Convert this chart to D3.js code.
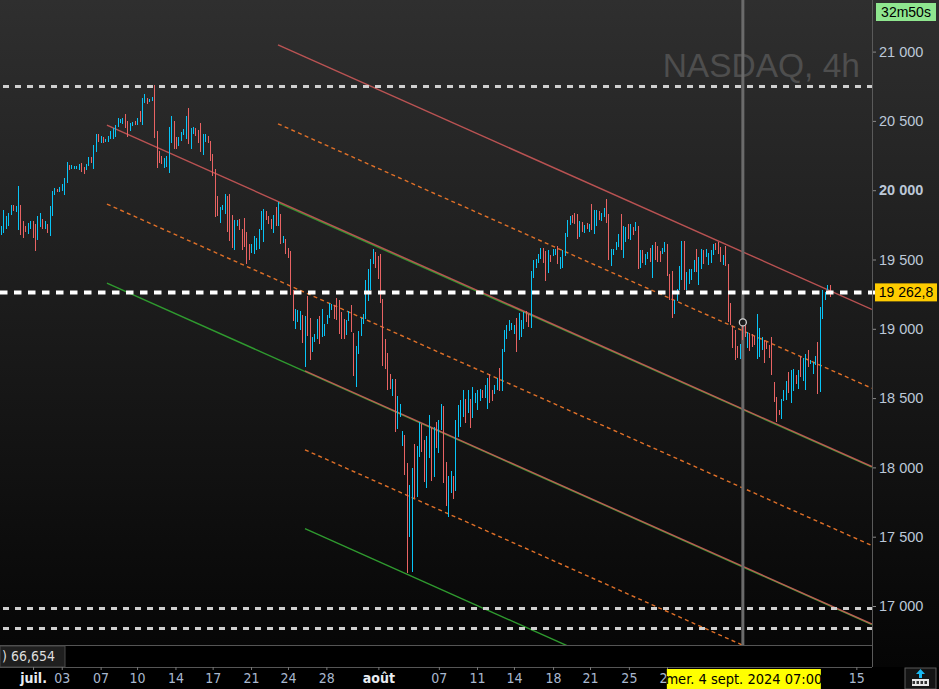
<!DOCTYPE html>
<html>
<head>
<meta charset="utf-8">
<script src="https://cdn.jsdelivr.net/npm/d3@7"></script>
<style>
  html, body { margin: 0; padding: 0; background: #000; overflow: hidden; }
</style>
</head>
<body>
<div id="chart"></div>
<script>
// 4h bars, NASDAQ (high / low / colour)
const highs = [
  19740,19856,19812,19836,19892,19892,19885,20029,19892,19776,
  19740,19764,19779,19776,19755,19812,19832,19793,19776,19755,
  19885,19993,20017,20012,20022,20044,20087,20200,20181,20181,
  20174,20174,20188,20195,20164,20188,20241,20241,20325,20405,
  20405,20390,20381,20369,20390,20429,20446,20470,20518,20511,
  20523,20549,20499,20482,20494,20501,20523,20571,20667,20696,
  20667,20660,20670,20759,20429,20284,20246,20234,20246,20458,
  20535,20499,20381,20385,20422,20438,20535,20592,20450,20458,
  20450,20434,20482,20405,20409,20390,20354,20260,20152,19957,
  19880,19892,19971,19959,19971,19822,19788,19783,19795,19723,
  19798,19697,19615,19615,19668,19653,19718,19848,19863,19848,
  19812,19795,19820,19880,19916,19827,19668,19649,19586,19560,
  19283,19145,19138,19126,19102,19090,19234,19080,
  18940,18965,19073,19090,19145,19037,19097,19186,19181,19174,
  19225,19205,19121,19068,19066,19126,19169,18972,18873,18981,
  19080,19104,19350,19429,19506,19579,19555,19523,19538,19217,
  18928,18827,18676,18640,18640,18512,18459,18266,18237,18030,
  17876,17997,18170,18151,18326,18314,18199,18230,18375,18283,
  18290,18331,18343,18454,18440,18042,17941,17977,17941,18339,
  18447,
  18483,18555,18490,18555,18495,18579,18536,18555,18567,18562,
  18591,18644,18671,18562,18591,18644,18719,18856,18989,19025,
  19061,19042,19025,19080,19114,19061,19121,19128,19104,19415,
  19494,19506,19542,19586,19583,19562,19571,19535,19579,19579,
  19595,19516,19571,19694,19783,19817,19819,19839,19831,19776,
  19769,19747,19766,19754,19899,19855,19855,19851,19834,19868,
  19940,19831,19579,19579,19627,19682,19827,19740,
  19735,19754,19754,19735,19769,19740,19571,19567,19538,19552,
  19583,19603,19624,19595,19559,19583,19624,19615,19398,19415,
  19205,19290,19456,19632,19632,19410,19434,19434,19494,19579,
  19518,19579,19567,19579,19550,19567,19615,19620,19627,19591,
  19530,19595,19470,19188,19020,18989,18873,18892,19049,19054,
  18977,18969,18965,18945,19109,19005,18940,18916,18904,18885,
  18940,18615,18507,18411,18495,18555,18620,18688,18700,18712,
  18664,18700,18801,18789,18820,18849,18777,18760,18801,18904,
  19157,19278,19266,19318,19314
];
const lows = [
  19675,19692,19723,19740,19820,19851,19841,19716,19675,19656,
  19699,19682,19723,19656,19562,19639,19735,19721,19718,19692,
  19670,19812,19964,19988,19988,19995,19964,20053,20145,20154,
  20154,20150,20145,20128,20116,20145,20178,20193,20152,20275,
  20347,20342,20337,20347,20347,20366,20373,20385,20458,20482,
  20475,20446,20385,20426,20465,20470,20470,20489,20470,20626,
  20621,20636,20645,20376,20157,20193,20188,20161,20169,20125,
  20342,20296,20296,20320,20354,20397,20373,20332,20296,20409,
  20393,20337,20279,20255,20349,20337,20212,20101,19808,19812,
  19764,19856,19827,19699,19632,19584,19567,19740,19711,19567,
  19591,19466,19499,19547,19543,19567,19574,19716,19627,19783,
  19755,19723,19692,19742,19742,19615,19620,19543,19514,19242,
  19056,19001,19049,18994,18897,18724,18946,18772,
  18832,18904,18928,18890,18940,18945,19032,19080,19133,19070,
  19066,18960,18926,18924,18953,19054,18977,18656,18579,18815,
  18945,19032,19068,19198,19278,19470,19439,19357,19186,18729,
  18707,18555,18567,18512,18259,18274,18367,18151,17948,17238,
  17500,17248,17777,17790,18078,18114,17898,17850,18066,17905,
  17934,18139,18107,18271,17886,17724,17640,17814,17773,17828,
  18218,
  18295,18363,18322,18392,18283,18355,18464,18411,18478,18502,
  18500,18418,18468,18478,18531,18560,18550,18548,18830,18926,
  18984,18993,18960,18830,18916,18940,18998,19046,19013,19005,
  19367,19436,19475,19506,19475,19345,19403,19482,19528,19530,
  19465,19432,19439,19523,19663,19750,19766,19757,19648,19665,
  19697,19692,19723,19699,19711,19682,19742,19788,19776,19807,
  19764,19494,19451,19535,19567,19591,19571,19509,
  19627,19651,19639,19675,19706,19429,19439,19475,19458,19506,
  19482,19367,19499,19482,19482,19542,19554,19381,19210,19078,
  19107,19198,19278,19350,19278,19278,19326,19350,19410,19410,
  19319,19434,19465,19518,19458,19475,19530,19571,19542,19482,
  19458,19451,19049,19025,18861,18772,18789,18784,18916,18940,
  18863,18839,18868,18880,18784,18796,18849,18753,18856,18791,
  18668,18471,18326,18375,18351,18478,18488,18536,18464,18550,
  18603,18567,18651,18623,18555,18724,18748,18676,18736,18526,
  18543,19070,19205,19278,19229
];
// u = up bar (cyan), d = down bar (red)
const barDirection =
  'uuuuuduudd' + 'duudduudud' + 'uuuduuuudu' + 'uuudduuduu' + 'duduuuuuuu' +
  'udduududuu' + 'duudddduuu' + 'udduuuuduu' + 'ddduuddddd' + 'uuuddduudd' +
  'ddduuuuuud' + 'ddudududdd' + 'duuududd' +
  'uuuduuuuud' + 'dddduudduu' + 'uuuuuudddd' + 'ddduduuudd' + 'uuduudduud' +
  'uduudduudu' + 'u' +
  'uududuuuud' + 'uudduuduuu' + 'uuuduuuddu' + 'uuuudduduu' + 'duuuuudddu' +
  'dududuuduu' + 'dduuuudu' +
  'ududududuu' + 'duddduuddd' + 'uuuuduuuud' + 'uuduuuuddd' + 'uddddddudd' +
  'uddduuuddd' + 'dddduuuduu' + 'duduuduuud' + 'uuuud';

const priceTicks = [17000, 17500, 18000, 18500, 19000, 19500, 20000, 20500, 21000];
// labels under the yellow date box (sept., 04, 08, 11) are not visible
const dateLabels = ['juil.', '03', '07', '10', '14', '17', '21', '24', '28', 'août',
  '07', '11', '14', '18', '21', '25', '28', '15'];
const dateTickBars = [13.2, 25, 41, 56, 71.8, 87.1, 102.9, 118.1, 133.9, 155.3,
  180.2, 195.9, 211.1, 227.2, 242.4, 258.4, 274.1, 352];
const monthLabels = ['juil.', 'août'];

const levelLines = [20751, 16987, 16843];
const lastPrice = 19262.8;
const cursorBar = 305.3;
const cursorPrice = 19046;
const cursorText = 'mer. 4 sept. 2024 07:00';

// three stacked channels: top line, dashed middle, green bottom
const channelStartBar = [43.6, 114, 125.1];
const channelStartTop = [20470, 21048, 18696];
const channelEndBar = 358.4;
const channelEndTop = [18006, 19140, 16870];
const channelStep = [570, 569, 569];

const width = 939;
const height = 689;
const plotRight = 872;
const plotBottom = 645;

const svg = d3.select('#chart')
  .append('svg')
  .attr('width', width)
  .attr('height', height)
  .style('display', 'block');

const defs = svg.append('defs');
const grad = defs.append('linearGradient')
  .attr('id', 'bg')
  .attr('x1', 0).attr('y1', 0).attr('x2', 0).attr('y2', 1);
grad.append('stop').attr('offset', '0%').attr('stop-color', '#2f2f2f');
grad.append('stop').attr('offset', '100%').attr('stop-color', '#050505');

defs.append('clipPath').attr('id', 'plotClip')
  .append('rect')
  .attr('x', 0).attr('y', 0)
  .attr('width', plotRight).attr('height', plotBottom);

svg.append('rect')
  .attr('x', 0).attr('y', 0)
  .attr('width', width).attr('height', plotBottom + 22)
  .attr('fill', 'url(#bg)');

const xScale = d3.scaleLinear().domain([0, 341]).range([1, 829.6]);
const yScale = d3.scaleLinear().domain([21000, 17000]).range([51.6, 606]);

const plot = svg.append('g').attr('clip-path', 'url(#plotClip)');

// watermark
plot.append('text')
  .attr('x', 860)
  .attr('y', 77)
  .attr('text-anchor', 'end')
  .attr('font-family', "'Liberation Sans', Arial, sans-serif")
  .attr('font-size', 33.5)
  .attr('fill', '#4e4e4e')
  .text('NASDAQ, 4h');

// channels: greens first, then dashed, then the red tops
const lineColour = ['#d45a5a', '#e07028', '#2f9a2f'];
const channelLines = [];
channelStartBar.forEach((b, c) => {
  for (let k = 0; k < 3; k++) {
    channelLines.push({
      x1: b, y1: channelStartTop[c] - k * channelStep[c],
      x2: channelEndBar, y2: channelEndTop[c] - k * channelStep[c],
      kind: k
    });
  }
});
channelLines.sort((a, b) => b.kind - a.kind);

plot.append('g')
  .selectAll('line')
  .data(channelLines)
  .enter()
  .append('line')
  .attr('x1', (d) => xScale(d.x1))
  .attr('y1', (d) => yScale(d.y1))
  .attr('x2', (d) => xScale(d.x2))
  .attr('y2', (d) => yScale(d.y2))
  .attr('stroke', (d) => lineColour[d.kind])
  .attr('stroke-width', 1.4)
  .attr('stroke-opacity', (d) => d.kind === 0 ? 0.85 : 1)
  .attr('stroke-dasharray', (d) => d.kind === 1 ? '4,3.3' : null);

// horizontal levels
plot.selectAll('line.level')
  .data(levelLines)
  .enter()
  .append('line')
  .attr('class', 'level')
  .attr('x1', 0)
  .attr('x2', plotRight)
  .attr('y1', (d) => Math.round(yScale(d)) + 0.5)
  .attr('y2', (d) => Math.round(yScale(d)) + 0.5)
  .attr('stroke', '#cfcfcf')
  .attr('stroke-width', 3)
  .attr('stroke-dasharray', '6,6')
  .attr('stroke-dashoffset', -3);

// cursor
plot.append('line')
  .attr('x1', xScale(cursorBar))
  .attr('x2', xScale(cursorBar))
  .attr('y1', 0)
  .attr('y2', plotBottom)
  .attr('stroke', '#6b6b6b')
  .attr('stroke-width', 3);

// candles
const bars = highs.map((h, i) => ({ i, h, l: lows[i], up: barDirection[i] === 'u' }));
plot.selectAll('rect.bar')
  .data(bars)
  .enter()
  .append('rect')
  .attr('class', 'bar')
  .attr('x', (d) => Math.round(xScale(d.i)))
  .attr('y', (d) => yScale(d.h))
  .attr('width', 1)
  .attr('height', (d) => Math.max(1, yScale(d.l) - yScale(d.h)))
  .attr('fill', (d) => d.up ? '#08c4f6' : '#e86363')
  .attr('shape-rendering', 'crispEdges');

// last price line
svg.append('line')
  .attr('x1', 0)
  .attr('x2', plotRight + 4)
  .attr('y1', yScale(lastPrice))
  .attr('y2', yScale(lastPrice))
  .attr('stroke', '#ffffff')
  .attr('stroke-width', 4)
  .attr('stroke-dasharray', '7.5,6.5');

plot.append('circle')
  .attr('cx', xScale(cursorBar))
  .attr('cy', yScale(cursorPrice))
  .attr('r', 3.5)
  .attr('fill', '#1c1c1c')
  .attr('stroke', '#d0d0d0')
  .attr('stroke-width', 1.3);

// right price axis
const frLocale = d3.formatLocale({ decimal: ',', thousands: '\u00a0', grouping: [3], currency: ['', '€'] });
const fmt = frLocale.format(',d');

const yAxis = svg.append('g')
  .attr('transform', `translate(${plotRight},0)`)
  .call(d3.axisRight(yScale).tickValues(priceTicks).tickFormat(fmt).tickSize(4).tickPadding(3));
yAxis.select('.domain').remove();
yAxis.selectAll('.tick line').attr('stroke', '#8a8a8a');
yAxis.selectAll('.tick text')
  .attr('fill', '#bcc8d8')
  .attr('font-family', "'Liberation Sans', Arial, sans-serif")
  .attr('font-size', 14.5)
  .attr('font-weight', (d) => d === 20000 ? 'bold' : 'normal');

svg.append('line')
  .attr('x1', plotRight + 0.5).attr('x2', plotRight + 0.5)
  .attr('y1', 0).attr('y2', plotBottom + 22)
  .attr('stroke', '#5a5a5a');

// price label
const py = yScale(lastPrice);
svg.append('rect')
  .attr('x', 875).attr('y', py - 9)
  .attr('width', 62).attr('height', 18)
  .attr('fill', '#ffcc00');
svg.append('text')
  .attr('x', 906).attr('y', py + 5)
  .attr('text-anchor', 'middle')
  .attr('font-family', "'Liberation Sans', Arial, sans-serif")
  .attr('font-size', 14)
  .attr('fill', '#000')
  .text('19 262,8');

// countdown
svg.append('rect')
  .attr('x', 876).attr('y', 3)
  .attr('width', 60).attr('height', 18)
  .attr('fill', '#8fe68f');
svg.append('text')
  .attr('x', 906).attr('y', 17)
  .attr('text-anchor', 'middle')
  .attr('font-family', "'Liberation Sans', Arial, sans-serif")
  .attr('font-size', 14)
  .attr('fill', '#000')
  .text('32m50s');

// indicator strip
svg.append('rect')
  .attr('x', 0).attr('y', plotBottom)
  .attr('width', plotRight).attr('height', 22)
  .attr('fill', '#000');
svg.append('line')
  .attr('x1', 0).attr('x2', plotRight)
  .attr('y1', plotBottom + 0.5).attr('y2', plotBottom + 0.5)
  .attr('stroke', '#555');
svg.append('line')
  .attr('x1', 0).attr('x2', plotRight)
  .attr('y1', plotBottom + 22.5).attr('y2', plotBottom + 22.5)
  .attr('stroke', '#555');
svg.append('rect')
  .attr('x', 0).attr('y', plotBottom + 1)
  .attr('width', 65).attr('height', 21)
  .attr('fill', '#1f1f1f')
  .attr('stroke', '#4a4a4a');
svg.append('text')
  .attr('x', 2).attr('y', plotBottom + 16)
  .attr('font-family', "'Liberation Sans Narrow', 'DejaVu Sans Condensed', sans-serif")
  .attr('font-size', 14)
  .attr('fill', '#dddddd')
  .text(') 66,654');

// date axis
const xAxis = svg.append('g')
  .attr('transform', `translate(0,${plotBottom + 22})`)
  .call(d3.axisBottom(xScale).tickValues(dateTickBars)
    .tickFormat((d, i) => dateLabels[i]).tickSize(3).tickPadding(3));
xAxis.select('.domain').remove();
xAxis.selectAll('.tick line').attr('stroke', '#777');
xAxis.selectAll('.tick text')
  .attr('font-family', "'Liberation Sans Narrow', 'DejaVu Sans Condensed', sans-serif")
  .attr('font-size', 14)
  .attr('fill', (d, i) => monthLabels.includes(dateLabels[i]) ? '#e8ecf2' : '#a9b8cf')
  .attr('font-weight', (d, i) => monthLabels.includes(dateLabels[i]) ? 'bold' : 'normal');

// cursor date box
const cx = xScale(cursorBar);
svg.append('rect')
  .attr('x', cx - 76).attr('y', plotBottom + 24)
  .attr('width', 154).attr('height', 20)
  .attr('fill', '#ffff00');
svg.append('text')
  .attr('x', cx + 1).attr('y', plotBottom + 39)
  .attr('text-anchor', 'middle')
  .attr('font-family', "'Liberation Sans Narrow', 'DejaVu Sans Condensed', sans-serif")
  .attr('font-size', 14.5)
  .attr('fill', '#000')
  .text(cursorText);

// little icon bottom right
const icon = svg.append('g').attr('transform', 'translate(905,668)');
icon.append('rect').attr('x', 0).attr('y', 0).attr('width', 31).attr('height', 21)
  .attr('fill', '#141414').attr('stroke', '#5a5a5a');
icon.append('path').attr('d', 'M15.5,1 L20,6 L17,6 L17,10 L14,10 L14,6 L11,6 Z').attr('fill', '#19b8f0');
icon.append('rect').attr('x', 7).attr('y', 11).attr('width', 17).attr('height', 7)
  .attr('fill', '#e8e8e8');
[9, 13, 17, 21].forEach((k) => {
  icon.append('rect').attr('x', k - 1.5).attr('y', 13).attr('width', 2.5).attr('height', 3)
    .attr('fill', '#333');
});
</script>
</body>
</html>
